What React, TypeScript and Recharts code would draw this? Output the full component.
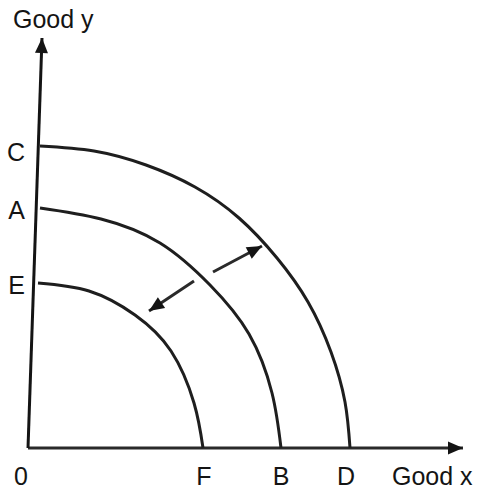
import React from 'react';
import { ComposedChart, Line, XAxis, YAxis } from 'recharts';

// Production possibility frontiers (Good x, Good y)
const curveC = [
  { x: 12, y: 302 }, { x: 66, y: 297 }, { x: 118, y: 283 }, { x: 167, y: 261 },
  { x: 211, y: 230 }, { x: 249, y: 190 }, { x: 280, y: 146 }, { x: 303, y: 96 },
  { x: 317, y: 46 }, { x: 322, y: 0 },
];
const curveA = [
  { x: 12, y: 240 }, { x: 73, y: 229 }, { x: 132, y: 205 }, { x: 182, y: 163 },
  { x: 221, y: 114 }, { x: 244, y: 55 }, { x: 253, y: 0 },
];
const curveE = [
  { x: 10, y: 165 }, { x: 61, y: 157 }, { x: 107, y: 133 }, { x: 143, y: 97 },
  { x: 166, y: 45 }, { x: 175, y: 0 },
];

// Axes and shift arrows
const yAxisLine = [{ x: 0, y: 0 }, { x: 14, y: 410 }];
const xAxisLine = [{ x: 0, y: 0 }, { x: 435, y: 0 }];
const arrowOut = [{ x: 185, y: 176 }, { x: 234, y: 202 }];
const arrowIn = [{ x: 166, y: 167 }, { x: 121, y: 137 }];

const xTickValues = [0, 176, 253, 318, 364];
const xTickLabels = ['0', 'F', 'B', 'D', 'Good x'];
const yTickValues = [163, 238, 296];
const yTickLabels = ['E', 'A', 'C'];

const FONT = '"Liberation Sans", Arial, sans-serif';
const INK = '#141414';

function head(p: any, seg: { x: number; y: number }[], key: string) {
  if (p.index !== seg.length - 1) return <g key={key + p.index} />;
  const a = seg[seg.length - 2];
  const b = seg[seg.length - 1];
  const ang = Math.atan2(-(b.y - a.y), b.x - a.x);
  const L = 15;
  const W = 6.5;
  const bx = p.cx - L * Math.cos(ang);
  const by = p.cy - L * Math.sin(ang);
  const nx = -Math.sin(ang);
  const ny = Math.cos(ang);
  const pts = `${p.cx},${p.cy} ${bx + W * nx},${by + W * ny} ${bx - W * nx},${by - W * ny}`;
  return <polygon key={key + p.index} points={pts} fill={INK} stroke="none" />;
}

const XTick = (props: any) => {
  const { x, y, payload, index } = props;
  const i = xTickValues.indexOf(payload.value);
  const label = xTickLabels[i >= 0 ? i : index];
  const anchor = i === 0 ? 'end' : i === xTickValues.length - 1 ? 'start' : 'middle';
  return (
    <text x={x} y={y} dy="0.71em" textAnchor={anchor} fontFamily={FONT} fontSize={25} fill={INK}>
      {label}
    </text>
  );
};

const YTick = (props: any) => {
  const { x, y, payload, index } = props;
  const i = yTickValues.indexOf(payload.value);
  const label = yTickLabels[i >= 0 ? i : index];
  return (
    <text x={x} y={y} dy="0.355em" textAnchor="end" fontFamily={FONT} fontSize={25} fill={INK}>
      {label}
    </text>
  );
};

export default function App() {
  return (
    <div style={{ position: 'absolute', left: 0, top: 0, background: '#fff' }}>
      <ComposedChart width={479} height={491} margin={{ top: 0, right: 0, left: 0, bottom: 0 }}>
        <XAxis
          type="number"
          dataKey="x"
          domain={[0, 451]}
          ticks={xTickValues}
          tick={<XTick />}
          axisLine={false}
          tickLine={false}
          tickSize={0}
          tickMargin={19}
          height={43}
          interval={0}
        />
        <YAxis
          type="number"
          dataKey="y"
          domain={[0, 448]}
          ticks={yTickValues}
          tick={<YTick />}
          axisLine={false}
          tickLine={false}
          tickSize={0}
          tickMargin={3}
          width={28}
          interval={0}
          label={{
            content: () => (
              <text x={13} y={28} fontFamily={FONT} fontSize={25} fill={INK}>
                Good y
              </text>
            ),
          }}
        />
        <Line data={xAxisLine} dataKey="y" type="linear" stroke="#2a2a2a" strokeWidth={3}
          dot={(p: any) => head(p, xAxisLine, 'xa')} activeDot={false} isAnimationActive={false} />
        <Line data={yAxisLine} dataKey="y" type="linear" stroke={INK} strokeWidth={3}
          dot={(p: any) => head(p, yAxisLine, 'ya')} activeDot={false} isAnimationActive={false} />
        <Line data={curveC} dataKey="y" type="natural" stroke="#1e1e1e" strokeWidth={3}
          dot={false} activeDot={false} isAnimationActive={false} />
        <Line data={curveA} dataKey="y" type="natural" stroke="#1e1e1e" strokeWidth={3}
          dot={false} activeDot={false} isAnimationActive={false} />
        <Line data={curveE} dataKey="y" type="natural" stroke="#1e1e1e" strokeWidth={3}
          dot={false} activeDot={false} isAnimationActive={false} />
        <Line data={arrowOut} dataKey="y" type="linear" stroke="#2a2a2a" strokeWidth={3}
          dot={(p: any) => head(p, arrowOut, 'ao')} activeDot={false} isAnimationActive={false} />
        <Line data={arrowIn} dataKey="y" type="linear" stroke="#2a2a2a" strokeWidth={3}
          dot={(p: any) => head(p, arrowIn, 'ai')} activeDot={false} isAnimationActive={false} />
      </ComposedChart>
    </div>
  );
}
